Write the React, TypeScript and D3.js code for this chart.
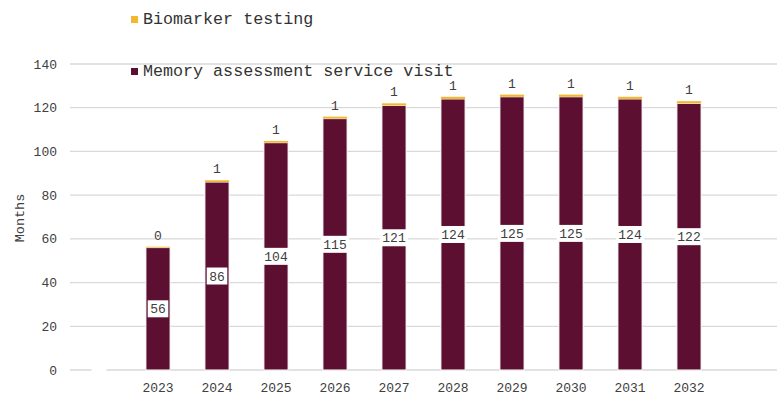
import React from "react";
import * as d3 from "d3";

const categories = ["", "2023", "2024", "2025", "2026", "2027", "2028", "2029", "2030", "2031", "2032", ""];
const memoryVisit = [0, 56, 86, 104, 115, 121, 124, 125, 125, 124, 122, 0];
const biomarker = [0, 0.4, 0.8, 0.8, 0.9, 1, 1, 1, 1, 1, 1, 0];
const memoryLabels = ["", "56", "86", "104", "115", "121", "124", "125", "125", "124", "122", null];
const biomarkerLabels = [null, "0", "1", "1", "1", "1", "1", "1", "1", "1", "1", null];
const yTicks = [0, 20, 40, 60, 80, 100, 120, 140];

const W = 778;
const H = 398;
const FONT = "'Liberation Mono', 'Courier New', monospace";
const MAROON = "#5c0f31";
const GOLD = "#f2b830";
const TEXT = "#404040";

export default function App() {
  const x = d3
    .scaleBand<number>()
    .domain(categories.map((_, i) => i))
    .range([69.5, 777.5])
    .paddingInner(0.59)
    .paddingOuter(0.295);
  const y = d3.scaleLinear().domain([0, 140]).range([370, 64]);
  const bw = x.bandwidth();
  const charW = 0.6 * 13;

  return (
    <svg
      width={W}
      height={H}
      style={{ position: "absolute", left: 0, top: 0, background: "#fff" }}
      fontFamily={FONT}
    >
      {yTicks.map((t) => (
        <line key={t} x1={70} x2={777} y1={y(t)} y2={y(t)} stroke="#d9d9d9" strokeWidth={1.3} />
      ))}
      {yTicks.map((t) => (
        <text key={t} x={57} y={y(t)} dy="0.35em" textAnchor="end" fontSize={13} fill={TEXT}>
          {t}
        </text>
      ))}
      <text
        transform={`translate(19,218) rotate(-90)`}
        textAnchor="middle"
        dy="0.35em"
        fontSize={13.5}
        fill={TEXT}
      >
        Months
      </text>
      {categories.map((c, i) => {
        const x0 = x(i)!;
        const m = memoryVisit[i];
        const b = biomarker[i];
        if (!c) return null;
        return (
          <g key={i}>
            <rect x={x0} y={y(m)} width={bw} height={y(0) - y(m)} fill={MAROON} stroke="#fff" strokeWidth={1} />
            <rect x={x0} y={y(m + b)} width={bw} height={y(m) - y(m + b)} fill={GOLD} />
          </g>
        );
      })}
      {categories.map((c, i) => {
        const lab = memoryLabels[i];
        if (lab === null) return null;
        const cx = x(i)! + bw / 2;
        const cy = y(memoryVisit[i] / 2);
        const w = Math.max(lab.length * charW + 5, 15);
        return (
          <g key={i}>
            <rect x={cx - w / 2} y={cy - 8.5} width={w} height={17} fill="#fff" />
            <text x={cx} y={cy} dy="0.35em" textAnchor="middle" fontSize={13} fill={TEXT}>
              {lab}
            </text>
          </g>
        );
      })}
      {categories.map((c, i) => {
        const lab = biomarkerLabels[i];
        if (lab === null) return null;
        const cx = x(i)! + bw / 2;
        const top = y(memoryVisit[i] + biomarker[i]);
        return (
          <text key={i} x={cx} y={top - 7} textAnchor="middle" fontSize={13} fill={TEXT}>
            {lab}
          </text>
        );
      })}
      {categories.map((c, i) => (
        <text key={i} x={x(i)! + bw / 2} y={392} textAnchor="middle" fontSize={13} fill={TEXT}>
          {c}
        </text>
      ))}
      <rect x={131} y={16} width={7} height={7} fill={GOLD} />
      <text x={143} y={24} fontSize={16.7} fill="#333">
        Biomarker testing
      </text>
      <rect x={131} y={68} width={7} height={7} fill={MAROON} />
      <text x={143} y={76} fontSize={16.7} fill="#333">
        Memory assessment service visit
      </text>
    </svg>
  );
}
